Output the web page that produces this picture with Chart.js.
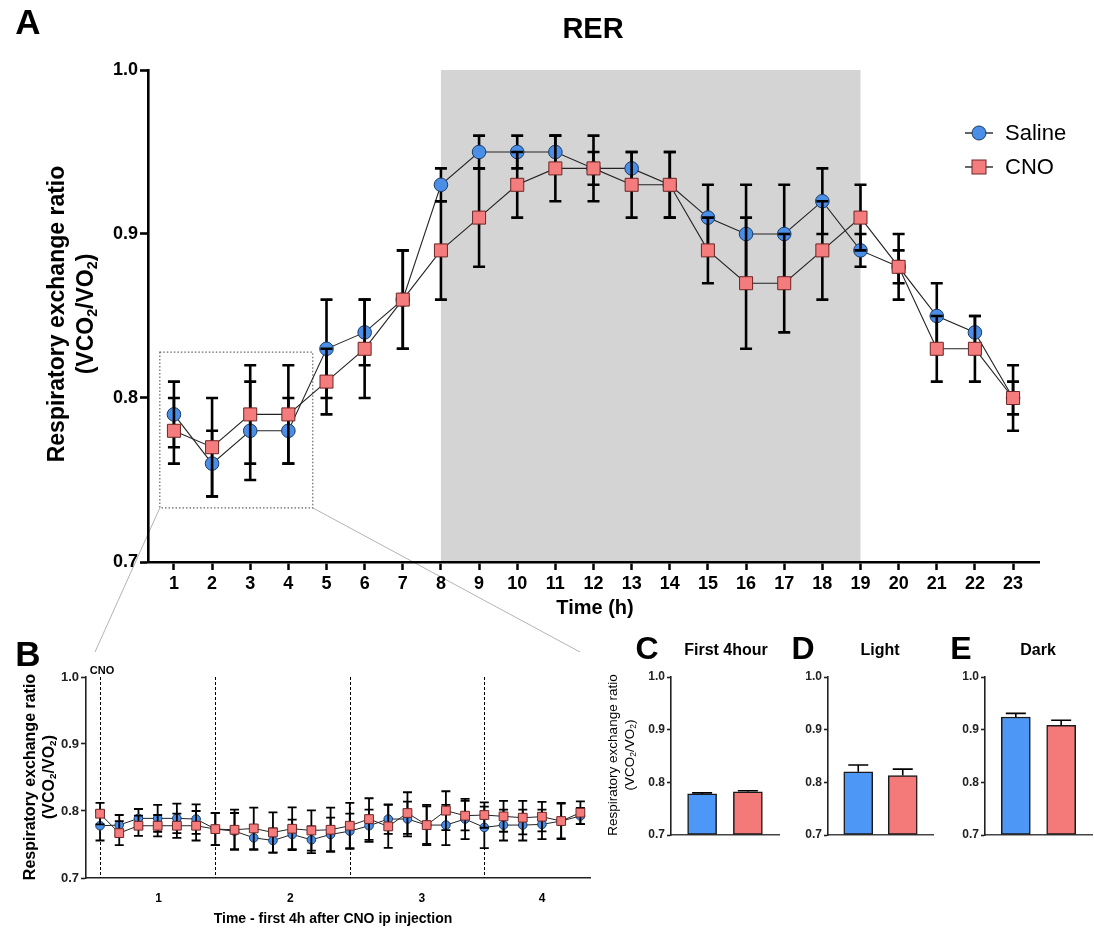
<!DOCTYPE html>
<html>
<head>
<meta charset="utf-8">
<script src="https://cdn.jsdelivr.net/npm/chart.js@4.4.1/dist/chart.umd.min.js"></script>
<style>
body { margin: 0; background: #fff; font-family: 'Liberation Sans', Arial, sans-serif; }
#page { position: relative; width: 1094px; height: 929px; overflow: hidden; }
canvas { position: absolute; }
.t { position: absolute; transform: translate(-50%, -50%); white-space: nowrap; color: #000; }
.v { position: absolute; transform: translate(-50%, -50%) rotate(-90deg); white-space: nowrap; color: #000; text-align: center; }
.b { font-weight: bold; }
sub { font-size: 62%; vertical-align: -0.25em; }
.leg { position: absolute; display: flex; align-items: center; font-size: 22px; }
.leg svg { margin-right: 9px; }
</style>
</head>
<body>
<div id="page">
  <canvas id="overlay" width="1094" height="929" style="left:0;top:0"></canvas>
  <canvas id="chartA" width="1094" height="660" style="left:0;top:0"></canvas>
  <canvas id="chartB" width="600" height="289" style="left:0;top:640px"></canvas>
  <canvas id="chartC" width="150" height="180" style="left:640px;top:665px"></canvas>
  <canvas id="chartD" width="150" height="180" style="left:797px;top:665px"></canvas>
  <canvas id="chartE" width="140" height="180" style="left:954px;top:665px"></canvas>

  <div class="t b" style="left:28px;top:22px;font-size:35px">A</div>
  <div class="t b" style="left:593px;top:28px;font-size:29px">RER</div>
  <div class="v b" style="left:56px;top:314px;font-size:23px">Respiratory exchange ratio</div>
  <div class="v b" style="left:86px;top:314px;font-size:23px">(VCO<sub>2</sub>/VO<sub>2</sub>)</div>
  <div class="t b" style="left:595px;top:607px;font-size:20px">Time (h)</div>

  <div class="leg" style="left:962px;top:120px">
    <svg width="34" height="26"><line x1="3" y1="13" x2="31" y2="13" stroke="#000" stroke-width="1.2"/><circle cx="17" cy="13" r="7" fill="#4a8ee6" stroke="#1c3a66" stroke-width="1"/></svg><span>Saline</span>
  </div>
  <div class="leg" style="left:962px;top:154px">
    <svg width="34" height="26"><line x1="3" y1="13" x2="31" y2="13" stroke="#000" stroke-width="1.2"/><rect x="10" y="6" width="14" height="14" fill="#f47c7c" stroke="#6e2626" stroke-width="1"/></svg><span>CNO</span>
  </div>

  <div class="t b" style="left:28px;top:654px;font-size:35px">B</div>
  <div class="v b" style="left:30px;top:777px;font-size:16px">Respiratory exchange ratio</div>
  <div class="v b" style="left:49px;top:777px;font-size:16px">(VCO<sub>2</sub>/VO<sub>2</sub>)</div>
  <div class="t b" style="left:102px;top:670px;font-size:11px">CNO</div>
  <div class="t b" style="left:333px;top:918px;font-size:14px">Time - first 4h after CNO ip injection</div>

  <div class="t b" style="left:647px;top:648px;font-size:32px">C</div>
  <div class="t b" style="left:726px;top:650px;font-size:16px">First 4hour</div>
  <div class="v" style="left:612px;top:755px;font-size:13.5px">Respiratory exchange ratio</div>
  <div class="v" style="left:630px;top:755px;font-size:13.5px">(VCO<sub>2</sub>/VO<sub>2</sub>)</div>

  <div class="t b" style="left:803px;top:648px;font-size:32px">D</div>
  <div class="t b" style="left:880px;top:650px;font-size:16px">Light</div>

  <div class="t b" style="left:961px;top:648px;font-size:32px">E</div>
  <div class="t b" style="left:1038px;top:650px;font-size:16px">Dark</div>
</div>

<script>
// ---- panel A: hourly RER ----
const aHours = [1,2,3,4,5,6,7,8,9,10,11,12,13,14,15,16,17,18,19,20,21,22,23];
const salineA    = [0.79,0.76,0.78,0.78,0.83,0.84,0.86,0.93,0.95,0.95,0.95,0.94,0.94,0.93,0.91,0.90,0.90,0.92,0.89,0.88,0.85,0.84,0.80];
const salineAErr = [0.02,0.02,0.03,0.02,0.03,0.02,0.03,0.01,0.01,0.01,0.01,0.01,0.01,0.02,0.02,0.03,0.03,0.02,0.01,0.01,0.02,0.01,0.01];
const cnoA       = [0.78,0.77,0.79,0.79,0.81,0.83,0.86,0.89,0.91,0.93,0.94,0.94,0.93,0.93,0.89,0.87,0.87,0.89,0.91,0.88,0.83,0.83,0.80];
const cnoAErr    = [0.02,0.03,0.03,0.03,0.02,0.03,0.03,0.03,0.03,0.02,0.02,0.02,0.02,0.02,0.02,0.04,0.03,0.03,0.02,0.02,0.02,0.02,0.02];
const darkPhase = [8, 19];
const yTicks = [0.7, 0.8, 0.9, 1.0];

// ---- panel B: first 4 h after injection ----
const salineB    = [0.778,0.779,0.789,0.789,0.789,0.788,0.773,0.770,0.760,0.756,0.765,0.757,0.765,0.770,0.778,0.788,0.788,0.779,0.779,0.788,0.7755,0.779,0.779,0.780,0.785,0.7925];
const salineBErr = [0.022,0.015,0.014,0.020,0.022,0.022,0.024,0.027,0.018,0.018,0.022,0.020,0.025,0.026,0.024,0.022,0.026,0.028,0.030,0.030,0.031,0.023,0.023,0.022,0.027,0.012];
const cnoB       = [0.796,0.767,0.778,0.778,0.778,0.778,0.773,0.772,0.774,0.768,0.7735,0.771,0.772,0.778,0.788,0.777,0.797,0.779,0.8005,0.793,0.794,0.792,0.790,0.7915,0.785,0.7975];
const cnoBErr    = [0.016,0.018,0.015,0.016,0.018,0.022,0.024,0.030,0.031,0.030,0.032,0.030,0.033,0.034,0.031,0.032,0.031,0.030,0.029,0.022,0.019,0.023,0.025,0.022,0.026,0.017];
const bHourLabels = ['1','2','3','4'];
const bHourTickAt = [3.05, 9.9, 16.75, 23.0];
const bHourLines = [0, 6, 13, 20];

// ---- panels C-E: averages ----
const groups = ['Saline', 'CNO'];
const first4h = [0.778, 0.782], first4hErr = [0.002, 0.002];
const light = [0.820, 0.813], lightErr = [0.013, 0.012];
const dark = [0.924, 0.908], darkErr = [0.007, 0.010];

const BLUE = '#4a8ee6', BLUE_EDGE = '#1c3a66';
const RED = '#f47c7c', RED_EDGE = '#6e2626';
const BAR_BLUE = '#4d97f6', BAR_RED = '#f47a7a';

Chart.defaults.font.family = "'Liberation Sans', Arial, sans-serif";
Chart.defaults.color = '#000';

function drawErrors(chart, index) {
  const ds = chart.data.datasets[index];
  if (!ds.errors) return;
  const meta = chart.getDatasetMeta(index);
  const y = chart.scales.y;
  const ctx = chart.ctx;
  ctx.save();
  ctx.strokeStyle = '#000';
  ctx.lineWidth = ds.errorLineWidth;
  meta.data.forEach((el, i) => {
    const v = ds.data[i].y, e = ds.errors[i];
    const top = y.getPixelForValue(v + e);
    const bot = y.getPixelForValue(ds.errorUpOnly ? v : v - e);
    const w = ds.errorCap / 2;
    ctx.beginPath();
    ctx.moveTo(el.x, top); ctx.lineTo(el.x, bot);
    ctx.moveTo(el.x - w, top); ctx.lineTo(el.x + w, top);
    if (!ds.errorUpOnly) { ctx.moveTo(el.x - w, bot); ctx.lineTo(el.x + w, bot); }
    ctx.stroke();
  });
  ctx.restore();
}

const errorBars = {
  id: 'errorBars',
  beforeDatasetDraw(chart, args) {
    if (!chart.data.datasets[args.index].errorUpOnly) drawErrors(chart, args.index);
  },
  afterDatasetDraw(chart, args) {
    if (chart.data.datasets[args.index].errorUpOnly) drawErrors(chart, args.index);
  }
};

// grey dark-phase box + dotted zoom box for panel A
const zoomBox = { x0: 0.63, x1: 4.64, y0: 0.733, y1: 0.828 };
const panelADecor = {
  id: 'panelADecor',
  beforeDraw(chart) {
    const { ctx, chartArea, scales: { x } } = chart;
    ctx.save();
    ctx.fillStyle = '#d4d4d4';
    const x0 = x.getPixelForValue(darkPhase[0]), x1 = x.getPixelForValue(darkPhase[1]);
    ctx.fillRect(x0, chartArea.top, x1 - x0, chartArea.bottom - chartArea.top);
    ctx.restore();
  },
  beforeDatasetsDraw(chart) {
    const { ctx, scales: { x, y } } = chart;
    ctx.save();
    ctx.strokeStyle = '#666';
    ctx.lineWidth = 1.2;
    ctx.setLineDash([1.5, 2]);
    const l = x.getPixelForValue(zoomBox.x0), r = x.getPixelForValue(zoomBox.x1);
    const t = y.getPixelForValue(zoomBox.y1), b = y.getPixelForValue(zoomBox.y0);
    ctx.strokeRect(l, t, r - l, b - t);
    ctx.restore();
  }
};

const panelBDecor = {
  id: 'panelBDecor',
  beforeDatasetsDraw(chart) {
    const { ctx, chartArea, scales: { x } } = chart;
    ctx.save();
    ctx.strokeStyle = '#000';
    ctx.lineWidth = 1;
    ctx.setLineDash([3, 2]);
    bHourLines.forEach(v => {
      const px = Math.round(x.getPixelForValue(v)) + 0.5;
      ctx.beginPath();
      ctx.moveTo(px, chartArea.top);
      ctx.lineTo(px, chartArea.bottom);
      ctx.stroke();
    });
    ctx.restore();
  }
};

function yScale(width, fontSize, tickLen, lineW, color) {
  return {
    min: 0.7, max: 1.0,
    afterBuildTicks: s => { s.ticks = yTicks.map(v => ({ value: v })); },
    afterFit: s => { s.width = width; },
    ticks: { font: { size: fontSize, weight: 'bold' }, color: color, padding: 2, callback: v => v.toFixed(1) },
    grid: { drawOnChartArea: false, tickLength: tickLen, tickWidth: lineW, tickColor: color },
    border: { color: color, width: lineW }
  };
}

function lineSet(label, xs, ys, errs, style, radius, fill, edge, errW, cap, order, lineW) {
  return {
    label: label,
    data: xs.map((x, i) => ({ x: x, y: ys[i] })),
    errors: errs, errorLineWidth: errW, errorCap: cap,
    borderColor: '#222', borderWidth: lineW,
    pointStyle: style, pointRadius: radius,
    pointBackgroundColor: fill, pointBorderColor: edge, pointBorderWidth: 1,
    order: order
  };
}

const common = { responsive: false, animation: false, devicePixelRatio: 1,
  plugins: { legend: { display: false }, tooltip: { enabled: false } } };

// Panel A
const chartA = new Chart(document.getElementById('chartA'), {
  type: 'line',
  data: { datasets: [
    lineSet('Saline', aHours, salineA, salineAErr, 'circle', 6.8, BLUE, BLUE_EDGE, 2.6, 12, 2, 1.1),
    lineSet('CNO', aHours, cnoA, cnoAErr, 'rect', 9.2, RED, RED_EDGE, 2.6, 12, 1, 1.1)
  ] },
  options: Object.assign({}, common, {
    layout: { padding: { top: 70, right: 55, left: 0, bottom: 58 } },
    scales: {
      x: {
        type: 'linear', min: 0.32, max: 23.68,
        afterBuildTicks: s => { s.ticks = aHours.map(v => ({ value: v })); },
        afterFit: s => { s.height = 40; },
        ticks: { font: { size: 18, weight: 'bold' }, padding: 3, maxRotation: 0, autoSkip: false },
        grid: { drawOnChartArea: false, tickLength: 8, tickWidth: 2.5, tickColor: '#000' },
        border: { color: '#000', width: 2.6 }
      },
      y: yScale(148, 18, 8, 2.6, '#000')
    }
  }),
  plugins: [panelADecor, errorBars]
});

// Panel B
const bIndex = salineB.map((_, i) => i);
const chartB = new Chart(document.getElementById('chartB'), {
  type: 'line',
  data: { datasets: [
    lineSet('Saline', bIndex, salineB, salineBErr, 'circle', 4.3, BLUE, BLUE_EDGE, 1.8, 9, 2, 1),
    lineSet('CNO', bIndex, cnoB, cnoBErr, 'rect', 6.2, RED, RED_EDGE, 1.8, 9, 1, 1)
  ] },
  options: Object.assign({}, common, {
    layout: { padding: { top: 37, right: 10, left: 0, bottom: 11 } },
    scales: {
      x: {
        type: 'linear', min: -0.73, max: 25.5,
        afterBuildTicks: s => { s.ticks = bHourTickAt.map(v => ({ value: v })); },
        afterFit: s => { s.height = 40; },
        ticks: { font: { size: 12, weight: 'bold' }, padding: 5, maxRotation: 0, autoSkip: false,
                 callback: (v, i) => bHourLabels[i] },
        grid: { display: false },
        border: { color: '#222', width: 1.6 }
      },
      y: yScale(86, 13, 5, 1.6, '#222')
    }
  }),
  plugins: [panelBDecor, errorBars]
});

// Panels C, D, E
function barChart(id, values, errs, padRight) {
  const mk = (i, color) => ({
    label: groups[i],
    data: [{ x: i, y: values[i] }],
    errors: [errs[i]], errorUpOnly: true, errorLineWidth: 1.6, errorCap: 20,
    backgroundColor: color, borderColor: '#1a1a1a', borderWidth: 1.5,
    borderSkipped: false, barThickness: 29, base: 0.7, grouped: false
  });
  return new Chart(document.getElementById(id), {
    type: 'bar',
    data: { datasets: [mk(0, BAR_BLUE), mk(1, BAR_RED)] },
    options: Object.assign({}, common, {
      layout: { padding: { top: 12, right: padRight, left: 0, bottom: 8 } },
      scales: {
        x: {
          type: 'linear', min: -0.68, max: 1.68, offset: false,
          ticks: { display: false },
          afterFit: s => { s.height = 2; },
          grid: { display: false },
          border: { color: '#444', width: 1.6 }
        },
        y: yScale(31, 12, 4, 1.6, '#222')
      }
    }),
    plugins: [errorBars]
  });
}
barChart('chartC', first4h, first4hErr, 11);
barChart('chartD', light, lightErr, 14);
barChart('chartE', dark, darkErr, 2);

// connector lines from the zoom box in A down to panel B
(function () {
  const ctx = document.getElementById('overlay').getContext('2d');
  const xs = chartA.scales.x, ys = chartA.scales.y;
  const bTop = 640 + chartB.chartArea.top - 25;
  ctx.strokeStyle = '#a0a0a0';
  ctx.lineWidth = 0.8;
  ctx.beginPath();
  ctx.moveTo(xs.getPixelForValue(zoomBox.x0), ys.getPixelForValue(zoomBox.y0));
  ctx.lineTo(chartB.chartArea.left + 9, bTop);
  ctx.moveTo(xs.getPixelForValue(zoomBox.x1), ys.getPixelForValue(zoomBox.y0));
  ctx.lineTo(chartB.chartArea.right - 10, bTop);
  ctx.stroke();
})();
</script>
</body>
</html>
